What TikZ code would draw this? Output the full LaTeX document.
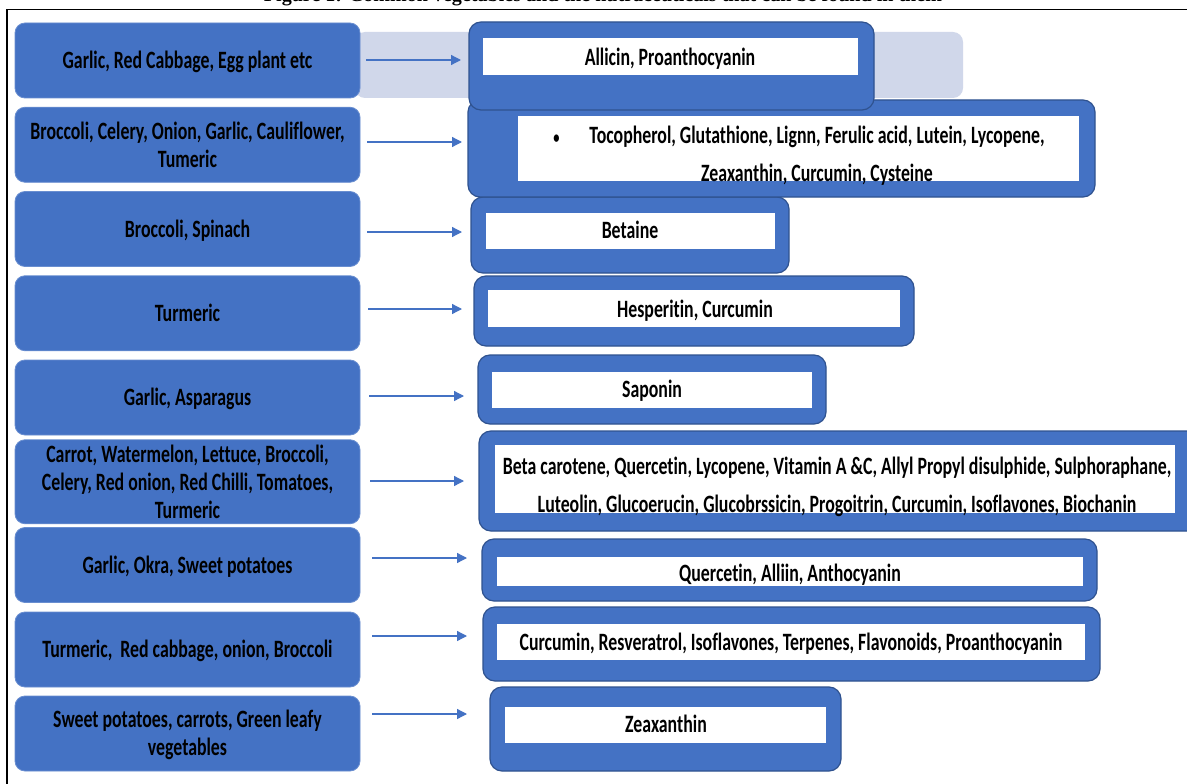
\documentclass[tikz,border=0pt]{standalone}
\usepackage{fontspec}
\usepackage{graphicx}
\setmainfont{Carlito}[Ligatures=NoCommon]
\newfontfamily\capfont{Liberation Serif}
\usetikzlibrary{arrows.meta}
\definecolor{boxblue}{HTML}{4472C4}
\definecolor{edgeblue}{HTML}{2F528F}
\definecolor{bandblue}{HTML}{D0D7EA}
\newcommand{\stt}[1]{\raisebox{-2.8pt}[\height][\depth]{\scalebox{1}[1.4]{\begin{tabular}{@{}c@{}}#1\end{tabular}}}}
\newcommand{\bx}[6]{\node[#1, minimum width={(#4)-(#3)}, minimum height={(#6)-(#5)}] (#2) at ({((#3)+(#4))/2},{((#5)+(#6))/2}) {};}
\begin{document}
\begin{tikzpicture}[x=1pt,y=-1pt,
  lbox/.style={fill=boxblue, rounded corners=10pt, inner sep=0, draw=boxblue!80!white, line width=0.8pt,
    minimum width=345pt, minimum height=75pt, font=\fontsize{17.8}{20}\selectfont\bfseries},
  rbox/.style={fill=boxblue, draw=edgeblue, line width=1.2pt, rounded corners=12pt, inner sep=0},
  wbox/.style={fill=white, inner sep=0, draw=none},
  band/.style={fill=bandblue, rounded corners=10pt, inner sep=0},
  txt/.style={inner sep=0, font=\fontsize{17.8}{20}\selectfont\bfseries, text=black},
  txtw/.style={inner sep=0, font=\fontsize{17.8}{27.7}\selectfont\bfseries, text=black},
  arr/.style={draw=boxblue, line width=1.3pt, -{Triangle[length=10pt,width=10pt]}},
]
\clip (0,0) rectangle (1187,784);
\fill[white] (0,0) rectangle (1187,784);

% caption (cut off at the top, as in the source)
\node[anchor=base, inner sep=0, font=\capfont\bfseries] (cap) at (603,1.5)
  {\resizebox{678pt}{!}{Figure 1: Common vegetables and the nutraceuticals that can be found in them}};
% frame
\draw[line width=1.7pt] (7,790) -- (7,9.5) -- (1195,9.5);

% light band behind first row
\bx{band}{band}{355}{963}{32}{98}

% arrows
\coordinate (s1) at (366,60);  \coordinate (e1) at (461,60);
\coordinate (s2) at (367,142); \coordinate (e2) at (462,142);
\coordinate (s3) at (367,232); \coordinate (e3) at (462,232);
\coordinate (s4) at (368,309); \coordinate (e4) at (462,309);
\coordinate (s5) at (369,396); \coordinate (e5) at (464,396);
\coordinate (s6) at (370,481); \coordinate (e6) at (464,481);
\coordinate (s7) at (372,558); \coordinate (e7) at (467,558);
\coordinate (s8) at (372,636); \coordinate (e8) at (467,636);
\coordinate (s9) at (372,714); \coordinate (e9) at (467,714);
\foreach \i in {1,...,9} { \draw[arr] (s\i) -- (e\i); }

% right boxes, bottom to top
\bx{rbox}{R9}{490}{841}{687}{771}
\bx{wbox}{W9}{505}{826}{707}{743}
\node[txt] (T9) at (666,724) {\stt{Zeaxanthin}};

\bx{rbox}{R8}{483}{1100}{607}{681}
\bx{wbox}{W8}{497}{1085}{624}{660}
\node[txt] (T8) at (791,642) {\stt{Curcumin, Resveratrol, Isoflavones, Terpenes, Flavonoids, Proanthocyanin}};

\bx{rbox}{R7}{482}{1097}{539}{601}
\bx{wbox}{W7}{497}{1083}{557}{586}
\node[txt] (T7) at (790,573) {\stt{Quercetin, Alliin, Anthocyanin}};

\bx{rbox}{R6}{479}{1200}{431}{531}
\bx{wbox}{W6}{495}{1175}{445}{513}
\node[txtw] (T6) at (837,483) {\stt{Beta carotene, Quercetin, Lycopene, Vitamin A \&C, Allyl Propyl disulphide, Sulphoraphane,\\
Luteolin, Glucoerucin, Glucobrssicin, Progoitrin, Curcumin, Isoflavones, Biochanin}};

\bx{rbox}{R5}{478}{826}{355}{424}
\bx{wbox}{W5}{492}{812}{372}{408}
\node[txt] (T5) at (652,389) {\stt{Saponin}};

\bx{rbox}{R4}{474}{914}{276}{346}
\bx{wbox}{W4}{488}{900}{290}{327}
\node[txt] (T4) at (695,309) {\stt{Hesperitin, Curcumin}};

\bx{rbox}{R3}{471}{789}{197}{273}
\bx{wbox}{W3}{486}{775}{213}{249}
\node[txt] (T3) at (630,230) {\stt{Betaine}};

\bx{rbox}{R2}{468}{1095}{100}{197}
\bx{wbox}{W2}{518}{1079}{116}{181}
\node[txtw] (T2) at (817,152) {\stt{\llap{\scalebox{0.7}{•}\hspace{30pt}}Tocopherol, Glutathione, Lignn, Ferulic acid, Lutein, Lycopene,\\
Zeaxanthin, Curcumin, Cysteine}};

\bx{rbox}{R1}{469}{874}{22}{110}
\bx{wbox}{W1}{483}{858}{38}{75}
\node[txt] (T1) at (670,57) {\stt{Allicin, Proanthocyanin}};

% left boxes
\node[lbox] (L1) at (187.5,60.5) {\stt{Garlic, Red Cabbage, Egg plant etc}};
\node[lbox] (L2) at (187.5,144.75) {\stt{Broccoli, Celery, Onion, Garlic, Cauliflower,\\ Tumeric}};
\node[lbox] (L3) at (187.5,229) {\stt{Broccoli, Spinach}};
\node[lbox] (L4) at (187.5,313.25) {\stt{Turmeric}};
\node[lbox] (L5) at (187.5,397.5) {\stt{Garlic, Asparagus}};
\node[lbox] (L6) at (187.5,481.75) {\stt{Carrot, Watermelon, Lettuce, Broccoli,\\ Celery, Red onion, Red Chilli, Tomatoes,\\ Turmeric}};
\node[lbox] (L7) at (187.5,565) {\stt{Garlic, Okra, Sweet potatoes}};
\node[lbox] (L8) at (187.5,649.5) {\stt{Turmeric,\ \ Red cabbage, onion, Broccoli}};
\node[lbox] (L9) at (187.5,733.5) {\stt{Sweet potatoes, carrots, Green leafy\\ vegetables}};
\end{tikzpicture}
\end{document}
